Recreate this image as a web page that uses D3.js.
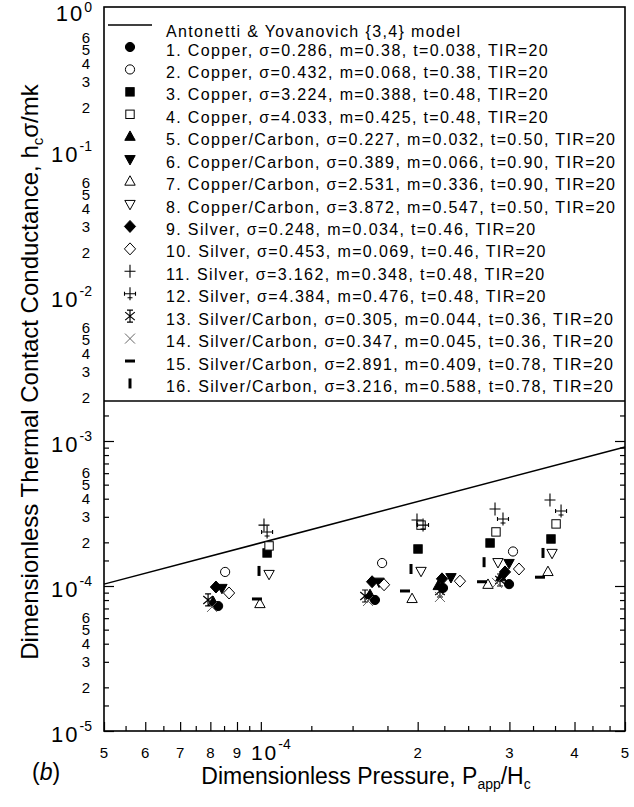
<!DOCTYPE html>
<html><head><meta charset="utf-8">
<script src="https://cdn.jsdelivr.net/npm/d3@7"></script>
<style>body{margin:0;background:#fff} svg{display:block;font-family:"Liberation Sans",Arial,Helvetica,sans-serif}</style>
</head><body><svg id="c" width="634" height="807"></svg>
<script>
// ---------- data ----------
const legendTitle = "Antonetti & Yovanovich {3,4} model";
const legendLabels = [
 "1. Copper, σ=0.286, m=0.38, t=0.038, TIR=20",
 "2. Copper, σ=0.432, m=0.068, t=0.38, TIR=20",
 "3. Copper, σ=3.224, m=0.388, t=0.48, TIR=20",
 "4. Copper, σ=4.033, m=0.425, t=0.48, TIR=20",
 "5. Copper/Carbon, σ=0.227, m=0.032, t=0.50, TIR=20",
 "6. Copper/Carbon, σ=0.389, m=0.066, t=0.90, TIR=20",
 "7. Copper/Carbon, σ=2.531, m=0.336, t=0.90, TIR=20",
 "8. Copper/Carbon, σ=3.872, m=0.547, t=0.50, TIR=20",
 "9. Silver, σ=0.248, m=0.034, t=0.46, TIR=20",
 "10. Silver, σ=0.453, m=0.069, t=0.46, TIR=20",
 "11. Silver, σ=3.162, m=0.348, t=0.48, TIR=20",
 "12. Silver, σ=4.384, m=0.476, t=0.48, TIR=20",
 "13. Silver/Carbon, σ=0.305, m=0.044, t=0.36, TIR=20",
 "14. Silver/Carbon, σ=0.347, m=0.045, t=0.36, TIR=20",
 "15. Silver/Carbon, σ=2.891, m=0.409, t=0.78, TIR=20",
 "16. Silver/Carbon, σ=3.216, m=0.588, t=0.78, TIR=20"
];
const markerTypes = ["circleF","circleO","squareF","squareO","triUpF","triDownF","triUpO","triDownO",
 "diamondF","diamondO","plus","plus2","aster","cross","dash","bar"];

// model line (P/H, dimensionless conductance)
const modelP = [5e-5, 5e-4];
const modelH = [1.03e-4, 9.1e-4];

// series: [P/H, h*sigma/(m k)]
const s01 = [[8.28e-5,7.28e-5],[1.656e-4,8.01e-5],[2.237e-4,9.69e-5],[2.995e-4,1.03e-4]];
const s02 = [[8.54e-5,1.25e-4],[1.709e-4,1.44e-4],[3.048e-4,1.73e-4]];
const s03 = [[1.028e-4,1.69e-4],[2.003e-4,1.80e-4],[2.754e-4,1.98e-4],[3.605e-4,2.11e-4]];
const s04 = [[1.037e-4,1.89e-4],[2.03e-4,2.63e-4],[2.827e-4,2.36e-4],[3.687e-4,2.68e-4]];
const s05 = [[8.10e-5,7.76e-5],[1.62e-4,8.67e-5],[2.19e-4,1.0e-4],[2.89e-4,1.15e-4]];
const s06 = [[8.42e-5,9.69e-5],[1.686e-4,1.07e-4],[2.317e-4,1.15e-4],[2.995e-4,1.44e-4]];
const s07 = [[9.96e-5,7.51e-5],[1.951e-4,8.14e-5],[2.729e-4,1.02e-4],[3.557e-4,1.25e-4]];
const s08 = [[1.037e-4,1.21e-4],[2.03e-4,1.27e-4],[2.852e-4,1.46e-4],[3.622e-4,1.69e-4]];
const s09 = [[8.20e-5,9.84e-5],[1.635e-4,1.07e-4],[2.227e-4,1.12e-4],[2.942e-4,1.25e-4]];
const s10 = [[8.69e-5,8.95e-5],[1.724e-4,1.02e-4],[2.411e-4,1.08e-4],[3.13e-4,1.31e-4]];
const s11 = [[1.014e-4,2.63e-4],[1.994e-4,2.85e-4],[2.815e-4,3.40e-4],[3.589e-4,3.92e-4]];
const s12 = [[1.028e-4,2.36e-4],[2.048e-4,2.63e-4],[2.916e-4,2.90e-4],[3.769e-4,3.29e-4]];
const s13 = [[7.92e-5,8.01e-5],[1.585e-4,8.53e-5],[2.207e-4,9.24e-5],[2.878e-4,1.10e-4]];
const s14 = [[8.06e-5,7.17e-5],[1.606e-4,7.88e-5],[2.207e-4,8.40e-5],[2.84e-4,1.05e-4]];
const s15 = [[9.83e-5,8.14e-5],[1.891e-4,9.24e-5],[2.658e-4,1.07e-4],[3.434e-4,1.15e-4]];
const s16 = [[9.92e-5,1.27e-4],[1.942e-4,1.31e-4],[2.682e-4,1.46e-4],[3.48e-4,1.69e-4]];
const allSeries = [s01,s02,s03,s04,s05,s06,s07,s08,s09,s10,s11,s12,s13,s14,s15,s16];

// ticks
const xLabelVals = [5e-5,6e-5,7e-5,8e-5,9e-5,1e-4,2e-4,3e-4,4e-4,5e-4];
const xTickLabels = ["5","6","7","8","9","10^-4","2","3","4","5"];
const xMinorVals = [5.5e-5,6.5e-5,7.5e-5,8.5e-5,9.5e-5,1.25e-4,1.5e-4,1.75e-4,2.25e-4,2.5e-4,2.75e-4,3.33e-4,3.67e-4,4.33e-4,4.67e-4];
const yDecades = [1,1e-1,1e-2,1e-3,1e-4,1e-5];
const yDecadeLabels = ["0","-1","-2","-3","-4","-5"];
const yMinorDigits = [6,5,4,3,2];
const yTickMult = [1.5,2,3,4,5,6,7,8,9];

// ---------- layout ----------
const svg = d3.select("#c");
const L=104, R=625, B=731, T=6, LEGB=401;
const x = d3.scaleLog().domain([5e-5,5e-4]).range([L,R]);
const y = d3.scaleLog().domain([1e-5,1]).range([B,T]);

const yTickVals = [];
[1e-5,1e-4,1e-3].forEach(d=>{ yTickVals.push(d); yTickMult.forEach(m=>{ if(d*m<1.7e-3) yTickVals.push(d*m); }); });
const yMajor = yTickVals.filter(v=>yDecades.some(d=>Math.abs(v/d-1)<1e-6));
const yMinor = yTickVals.filter(v=>!yMajor.includes(v));

function clean(g){ g.select(".domain").remove(); g.selectAll("line").attr("stroke","#000").attr("stroke-width",1.2); }
svg.append("g").attr("transform",`translate(0,${B})`).call(d3.axisBottom(x).tickValues(xLabelVals).tickSize(-9).tickFormat("")).call(clean);
svg.append("g").attr("transform",`translate(0,${B})`).call(d3.axisBottom(x).tickValues(xMinorVals).tickSize(-5).tickFormat("")).call(clean);
svg.append("g").attr("transform",`translate(${L},0)`).call(d3.axisLeft(y).tickValues(yMajor).tickSize(-10).tickFormat("")).call(clean);
svg.append("g").attr("transform",`translate(${L},0)`).call(d3.axisLeft(y).tickValues(yMinor).tickSize(-5).tickFormat("")).call(clean);
svg.append("g").attr("transform",`translate(${R},0)`).call(d3.axisRight(y).tickValues(yMajor).tickSize(-10).tickFormat("")).call(clean);
svg.append("g").attr("transform",`translate(${R},0)`).call(d3.axisRight(y).tickValues(yMinor).tickSize(-5).tickFormat("")).call(clean);

// frame & legend box
svg.append("rect").attr("x",L).attr("y",7).attr("width",R-L).attr("height",B-7)
  .attr("fill","none").attr("stroke","#000").attr("stroke-width",1.6);
svg.append("line").attr("x1",L).attr("x2",R).attr("y1",LEGB).attr("y2",LEGB).attr("stroke","#000").attr("stroke-width",1.6);

// model line
svg.append("path").datum(modelP.map((p,i)=>[p,modelH[i]]))
  .attr("d",d3.line().x(d=>x(d[0])).y(d=>y(d[1])))
  .attr("fill","none").attr("stroke","#000").attr("stroke-width",1.5);

function drawMarker(g,type){
  const blk="#000";
  switch(type){
    case "circleF": case "circleO":
      g.append("circle").attr("r",4.6).attr("fill",type==="circleF"?blk:"#fff").attr("stroke",blk).attr("stroke-width",1); break;
    case "squareF": case "squareO":
      g.append("rect").attr("x",-4.2).attr("y",-4.2).attr("width",8.4).attr("height",8.4).attr("fill",type==="squareF"?blk:"#fff").attr("stroke",blk).attr("stroke-width",1); break;
    case "triUpF": case "triUpO":
      g.append("path").attr("d","M0,-5.8L5.2,3.6L-5.2,3.6Z").attr("fill",type==="triUpF"?blk:"#fff").attr("stroke",blk).attr("stroke-width",1); break;
    case "triDownF": case "triDownO":
      g.append("path").attr("d","M0,5.8L5.2,-3.6L-5.2,-3.6Z").attr("fill",type==="triDownF"?blk:"#fff").attr("stroke",blk).attr("stroke-width",1); break;
    case "diamondF": case "diamondO":
      g.append("path").attr("d","M0,-6L5.6,0L0,6L-5.6,0Z").attr("fill",type==="diamondF"?blk:"#fff").attr("stroke",blk).attr("stroke-width",1); break;
    case "plus":
      g.append("path").attr("d","M-5.5,0H5.5M0,-6.5V6.5").attr("stroke",blk).attr("stroke-width",1.1); break;
    case "plus2":
      g.append("path").attr("d","M-5.5,0H5.5M0,-6.5V6.5M-5.5,-2V2M5.5,-2V2M-2.5,4H2.5").attr("stroke",blk).attr("stroke-width",1.1); break;
    case "aster":
      g.append("path").attr("d","M0,-6V6M-4.8,-4L4.8,4M-4.8,4L4.8,-4M-3,-6H3M-3,6H3").attr("stroke",blk).attr("stroke-width",1.2); break;
    case "cross":
      g.append("path").attr("d","M-5,-5L5,5M-5,5L5,-5").attr("stroke","#555").attr("stroke-width",0.9); break;
    case "dash":
      g.append("rect").attr("x",-5).attr("y",-1.5).attr("width",10).attr("height",3).attr("fill",blk); break;
    case "bar":
      g.append("rect").attr("x",-1.5).attr("y",-5).attr("width",3).attr("height",10).attr("fill",blk); break;
  }
}

const pts = svg.append("g");
allSeries.forEach((s,i)=>{
  s.forEach(d=>{
    const g = pts.append("g").attr("transform",`translate(${x(d[0])},${y(d[1])})`);
    drawMarker(g, markerTypes[i]);
  });
});

// legend
const leg = svg.append("g");
const rowStep = 22.43, row0 = 47;
leg.append("line").attr("x1",108).attr("x2",152).attr("y1",25).attr("y2",25).attr("stroke","#000").attr("stroke-width",1.5);
const texts = [];
texts.push(leg.append("text").attr("x",166).attr("y",31).attr("dominant-baseline","central").attr("font-size",16).text(legendTitle));
legendLabels.forEach((lab,i)=>{
  const cy = row0 + i*rowStep;
  drawMarker(leg.append("g").attr("transform",`translate(130,${cy})`), markerTypes[i]);
  texts.push(leg.append("text").attr("x",166).attr("y",cy+3).attr("dominant-baseline","central").attr("font-size",16).text(lab));
});
{
  const n=texts[5].node(); const w=n.getComputedTextLength(), c=n.getNumberOfChars();
  const ls = Math.max(0,(449-w)/(c-1));
  texts.forEach(t=>t.style("letter-spacing",ls+"px"));
}

// y tick labels
const yl = svg.append("g").attr("font-size",15).attr("text-anchor","end");
yDecades.forEach((d,i)=>{
  const t = yl.append("text").attr("x",92).attr("y",y(d)+(i===0?7:3)).attr("dominant-baseline","central");
  t.append("tspan").attr("font-size",22).attr("letter-spacing","2px").text("10");
  t.append("tspan").attr("font-size",14).attr("dy",i===0?-6:-8).text(yDecadeLabels[i]);
  if(i<yDecades.length-1){
    yMinorDigits.forEach(m=>{
      yl.append("text").attr("x",90).attr("y",y(d*m/10)+(m===6?-1:0)).attr("dominant-baseline","central").text(m);
    });
  }
});

// x tick labels
const xl = svg.append("g").attr("font-size",15).attr("text-anchor","middle");
xLabelVals.forEach((v,i)=>{
  const lab = xTickLabels[i];
  const t = xl.append("text").attr("x",x(v)+(lab.startsWith("10")?10:0)).attr("y",752).attr("dominant-baseline","central");
  if(lab.startsWith("10^")){
    t.append("tspan").attr("font-size",21).attr("letter-spacing","2px").text("10");
    t.append("tspan").attr("font-size",14).attr("dy",-8).text(lab.slice(3));
  } else t.text(lab);
});

// axis titles
const yt = svg.append("text").attr("transform","translate(38,372) rotate(-90)").attr("text-anchor","middle").attr("font-size",24);
yt.append("tspan").text("Dimensionless Thermal Contact Conductance, h");
yt.append("tspan").attr("font-size",15).attr("dy",5).text("c");
yt.append("tspan").attr("dy",-5).text("σ/mk");

const xt = svg.append("text").attr("x",366).attr("y",784).attr("text-anchor","middle").attr("font-size",23);
xt.append("tspan").text("Dimensionless Pressure, P");
xt.append("tspan").attr("font-size",14).attr("dy",5).text("app");
xt.append("tspan").attr("dy",-5).text("/H");
xt.append("tspan").attr("font-size",14).attr("dy",5).text("c");

const bl = svg.append("text").attr("x",32).attr("y",780).attr("font-size",23);
bl.append("tspan").text("(");
bl.append("tspan").attr("font-style","italic").text("b");
bl.append("tspan").text(")");
</script>
</body></html>
